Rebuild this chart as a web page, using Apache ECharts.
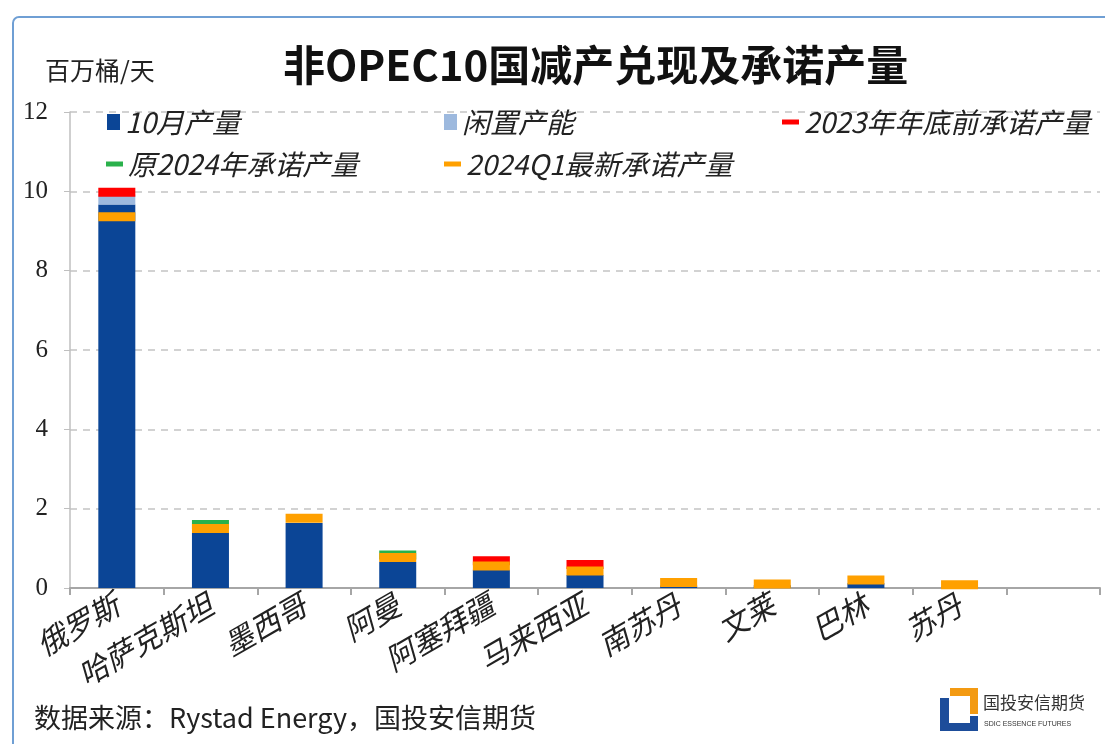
<!DOCTYPE html>
<html><head><meta charset="utf-8">
<script src="https://cdn.jsdelivr.net/npm/echarts@6/dist/echarts.min.js"></script>
<style>html,body{margin:0;padding:0;background:#fff}#c{width:1105px;height:744px}</style>
</head><body><div id="c"></div>
<script>
const categories = ['俄罗斯','哈萨克斯坦','墨西哥','阿曼','阿塞拜疆','马来西亚','南苏丹','文莱','巴林','苏丹',''];
const octProd = [9.67, 1.40, 1.64, 0.655, 0.46, 0.33, 0.06, 0.07, 0.12, 0.03, null];
const spareCap = [0.25, 0, 0, 0, 0, 0, 0, 0, 0, 0, null];
const commit2023 = [9.98, null, null, null, 0.69, 0.59, null, null, null, null, null];
const commit2024Orig = [null, 1.60, null, 0.83, null, null, null, null, null, null, null];
const commit2024Q1 = [9.36, 1.50, 1.76, 0.77, 0.555, 0.43, 0.14, 0.10, 0.20, 0.08, null];
const yTicks = [0, 2, 4, 6, 8, 10, 12];

const CJK = '"Noto Sans CJK SC", "Noto Sans", sans-serif';
const chart = echarts.init(document.getElementById('c'));
const legendText = {fontSize: 28, fontStyle: 'italic', color: '#222', fontFamily: CJK};
const mk = 9, bw = 37;
function legendAt(name, left, top, iw, ih) {
  return {data: [{name: name, icon: 'rect'}], left: left, top: top, itemWidth: iw, itemHeight: ih,
          itemGap: 4, textStyle: legendText, selectedMode: false, padding: 0};
}
chart.setOption({
  animation: false,
  backgroundColor: '#fff',
  graphic: [
    {type: 'rect', shape: {x: 13, y: 17, width: 1110, height: 760, r: 6}, style: {fill: 'none', stroke: '#6f9fd4', lineWidth: 2}, z: -1},
    {type: 'text', left: 283, top: 44, style: {text: '非OPEC10国减产兑现及承诺产量', font: 'bold 42px ' + CJK, fill: '#111'}},
    {type: 'text', left: 45, top: 58, style: {text: '百万桶/天', font: '25px ' + CJK, fill: '#222'}},
    {type: 'text', left: 34, top: 704, style: {text: '数据来源：Rystad Energy，国投安信期货', font: '27px ' + CJK, fill: '#222'}},
    {type: 'polygon', shape: {points: [[950,688],[978,688],[978,714],[970,714],[970,696],[950,696]]}, style: {fill: '#f39a12'}},
    {type: 'polygon', shape: {points: [[940,698],[949,698],[949,723],[970,723],[970,716],[978,716],[978,731],[940,731]]}, style: {fill: '#1d4d9a'}},
    {type: 'text', left: 983, top: 694, style: {text: '国投安信期货', font: '17px ' + CJK, fill: '#333'}},
    {type: 'text', left: 984, top: 721, style: {text: 'SDIC ESSENCE FUTURES', font: '7px "Liberation Sans Narrow", "Liberation Sans", sans-serif', fill: '#333'}}
  ],
  legend: [
    legendAt('10月产量', 107, 108, 13, 16),
    legendAt('闲置产能', 444, 108, 13, 16),
    legendAt('2023年年底前承诺产量', 782, 108, 17, 5),
    legendAt('原2024年承诺产量', 106, 150, 17, 5),
    legendAt('2024Q1最新承诺产量', 444, 150, 17, 5)
  ],
  grid: {left: 70, right: 5, top: 112, bottom: 156, containLabel: false},
  xAxis: {
    type: 'category', data: categories,
    axisLine: {lineStyle: {color: '#a6a6a6', width: 2}},
    axisTick: {show: true, interval: 0, length: 7, lineStyle: {color: '#a6a6a6', width: 2}},
    axisLabel: {interval: 0, rotate: 30, margin: 14, fontSize: 30, fontStyle: 'italic', color: '#222', fontFamily: CJK}
  },
  yAxis: {
    type: 'value', min: yTicks[0], max: yTicks[yTicks.length - 1], interval: 2,
    axisLine: {show: true, lineStyle: {color: '#bfbfbf', width: 1.5}},
    axisTick: {show: true, length: 6, lineStyle: {color: '#bfbfbf'}},
    axisLabel: {fontSize: 25, color: '#222', margin: 22, fontFamily: '"Liberation Serif", serif'},
    splitLine: {show: true, lineStyle: {type: [7, 6], color: '#c4c4c4', width: 1.5}}
  },
  series: [
    {name: '10月产量', type: 'bar', stack: 'p', data: octProd, barWidth: bw, itemStyle: {color: '#0b4596'}, z: 2},
    {name: '闲置产能', type: 'bar', stack: 'p', data: spareCap, barWidth: bw, itemStyle: {color: '#9db9de'}, z: 2},
    {name: '2023年年底前承诺产量', type: 'scatter', data: commit2023, symbol: 'rect', symbolSize: [bw, mk], itemStyle: {color: '#ff0000', opacity: 1}, z: 3},
    {name: '原2024年承诺产量', type: 'scatter', data: commit2024Orig, symbol: 'rect', symbolSize: [bw, mk], itemStyle: {color: '#2ab14b', opacity: 1}, z: 4},
    {name: '2024Q1最新承诺产量', type: 'scatter', data: commit2024Q1, symbol: 'rect', symbolSize: [bw, mk], itemStyle: {color: '#ffa000', opacity: 1}, z: 5}
  ]
});
</script></body></html>
